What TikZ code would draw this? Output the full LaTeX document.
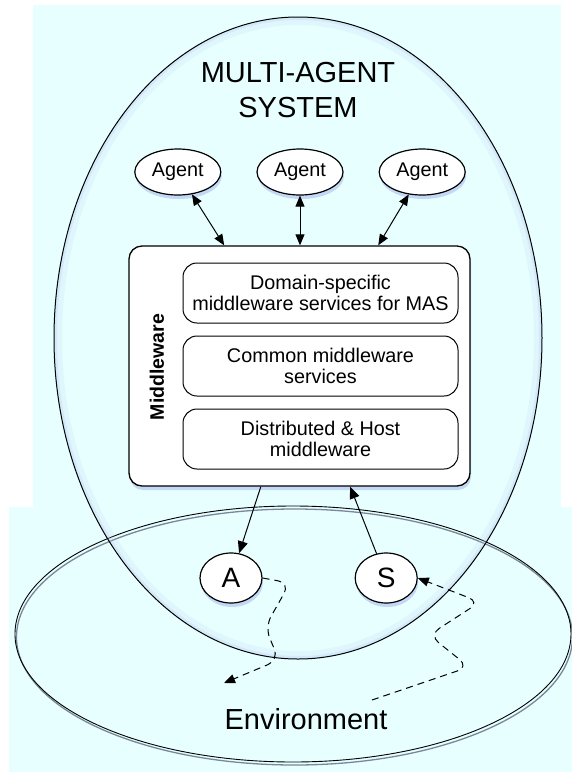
\documentclass[tikz,border=0pt]{standalone}
\usepackage{fontspec}
\setmainfont{Liberation Sans}
\usetikzlibrary{arrows.meta,positioning,shapes.geometric,shadows,calc}
\definecolor{bgcyan}{HTML}{E8FFFF}
\definecolor{glowblue}{HTML}{B4C8F2}
\definecolor{envgrey}{HTML}{7A8699}

\begin{document}
\begin{tikzpicture}[
  x=1pt, y=-1pt,
  node distance=12pt and 35pt,
  every node/.style={font=\fontsize{19.8}{21.5}\selectfont, align=center},
  boxshadow/.style={drop shadow={shadow xshift=1pt, shadow yshift=-4pt, fill=glowblue, opacity=.7}},
  agent/.style={ellipse, draw, line width=1.2pt, fill=white, boxshadow, minimum width=86pt, minimum height=46pt, inner sep=0pt},
  layer/.style={draw, line width=1pt, rounded corners=14pt, fill=white, minimum width=275pt, minimum height=60pt, inner sep=0pt},
  effector/.style={ellipse, draw, line width=1.2pt, fill=white, boxshadow, minimum width=62pt, minimum height=50pt, inner sep=0pt, font=\fontsize{28}{30}\selectfont},
  dbl/.style={{Triangle[length=11pt,width=9pt]}-{Triangle[length=11pt,width=9pt]}, line width=1pt},
  arr/.style={-{Triangle[length=12pt,width=10pt]}, line width=1pt},
  envarr/.style={-{Triangle[length=11pt,width=9pt]}, line width=1pt, dash pattern=on 7pt off 5pt, rounded corners=12pt},
]
  \useasboundingbox (0,0) rectangle (572,772);
  % Background
  \fill[bgcyan] (33,5) rectangle (561,507);
  \fill[bgcyan] (9,507) rectangle (572,772);

  % Environment
  \draw[envgrey, line width=1.3pt] (294.5,637) ellipse [x radius=278, y radius=128];
  \draw[line width=0.9pt] (293,634) ellipse [x radius=278, y radius=128];
  \node[font=\fontsize{29}{35}\selectfont] (env) at (306,719) {Environment};

  % Multi-agent system
  \begin{scope}
    \clip (298,338) ellipse [x radius=244, y radius=321];
    \draw[glowblue, line width=16pt, opacity=.15] (298,338) ellipse [x radius=244, y radius=321];
    \draw[glowblue, line width=6pt, opacity=.25] (298,338) ellipse [x radius=244, y radius=321];
  \end{scope}
  \node[ellipse, draw, line width=1pt, minimum width=488pt, minimum height=642pt, inner sep=0pt] (mas) at (298,338) {};
  \node[font=\fontsize{29}{35}\selectfont] (title) at (298,90) {MULTI-AGENT\\SYSTEM};

  % Agents
  \node[agent] (ag2) at (300,172) {Agent};
  \node[agent, left=35pt of ag2] (ag1) {Agent};
  \node[agent, right=35pt of ag2] (ag3) {Agent};

  % Middleware
  \node[draw, line width=1.3pt, rounded corners=13pt, fill=white, boxshadow, minimum width=341pt, minimum height=240pt] (mw) at (299.5,366) {};
  \node[layer] (dom) at (320.5,293) {Domain-specific\\middleware services for MAS};
  \node[layer, below=12pt of dom] (com) {Common middleware\\services};
  \node[layer, below=12pt of com] (dist) {Distributed \& Host\\middleware};
  \node[rotate=90, font=\bfseries\fontsize{19.5}{21}\selectfont] (mwlabel) at (157,367) {Middleware};

  \draw[dbl] (ag1) -- ($(mw.north west)!0.28!(mw.north east)$);
  \draw[dbl] (ag2) -- (ag2 |- mw.north);
  \draw[dbl] (ag3) -- ($(mw.north west)!0.73!(mw.north east)$);

  % Actuator and sensor
  \node[effector] (act) at (231,578) {A};
  \node[effector, right=92pt of act] (sen) {S};
  \draw[arr] ($(mw.south west)!0.387!(mw.south east)$) -- (act);
  \draw[arr] (sen) -- ($(mw.south west)!0.648!(mw.south east)$);

  \coordinate (sink) at (224,683);
  \coordinate (src) at (372,700);
  \draw[envarr] (act.east) -- (290,583) -- (265,627) -- (279,660) -- (sink);
  \draw[envarr] (src) -- (469,667) -- (429,635) -- (480,602) -- (sen.east);
\end{tikzpicture}
\end{document}
